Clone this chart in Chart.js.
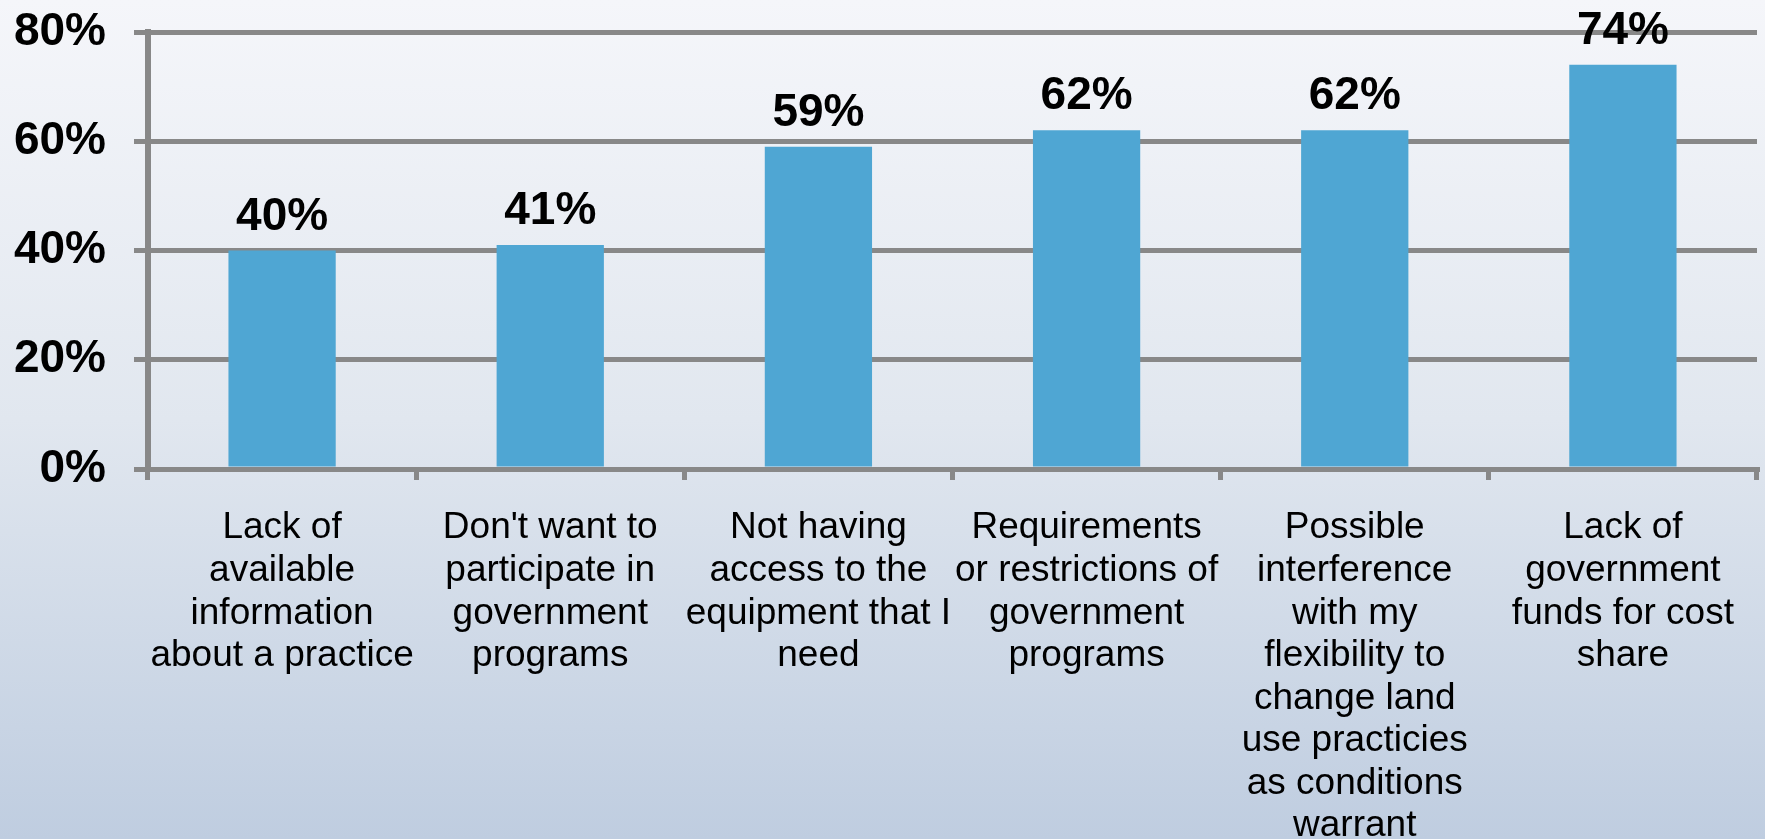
<!DOCTYPE html>
<html>
<head>
<meta charset="utf-8">
<script src="https://cdn.jsdelivr.net/npm/chart.js@4/dist/chart.umd.min.js"></script>
<style>
  html, body { margin: 0; padding: 0; }
  canvas { display: block; }
</style>
</head>
<body>
<canvas id="barriers" width="1765" height="839"></canvas>
<script>
const categories = [
  ["Lack of", "available", "information", "about a practice"],
  ["Don't want to", "participate in", "government", "programs"],
  ["Not having", "access to the", "equipment that I", "need"],
  ["Requirements", "or restrictions of", "government", "programs"],
  ["Possible", "interference", "with my", "flexibility to", "change land", "use practicies", "as conditions", "warrant"],
  ["Lack of", "government", "funds for cost", "share"]
];
const percents = [40, 41, 59, 62, 62, 74];
const yTicks = [0, 20, 40, 60, 80];

const FONT = "Arial, 'Liberation Sans', sans-serif";
const GRID = "#888888";

// soft top-to-bottom wash behind everything
const backdrop = {
  id: "backdrop",
  beforeDraw(chart) {
    const ctx = chart.ctx;
    const g = ctx.createLinearGradient(0, 0, 0, chart.height);
    g.addColorStop(0, "#f5f6fa");
    g.addColorStop(0.5, "#e1e7ef");
    g.addColorStop(1, "#bfcde0");
    ctx.save();
    ctx.fillStyle = g;
    ctx.fillRect(0, 0, chart.width, chart.height);
    ctx.restore();
  }
};

// percent value printed over each bar
const valueLabels = {
  id: "valueLabels",
  afterDatasetsDraw(chart) {
    const ctx = chart.ctx;
    const meta = chart.getDatasetMeta(0);
    ctx.save();
    ctx.font = "bold 46px " + FONT;
    ctx.fillStyle = "#000";
    ctx.textAlign = "center";
    ctx.textBaseline = "alphabetic";
    meta.data.forEach((bar, i) => {
      ctx.fillText(percents[i] + "%", bar.x, bar.y - 21);
    });
    ctx.restore();
  }
};

new Chart(document.getElementById("barriers"), {
  type: "bar",
  data: {
    labels: categories,
    datasets: [{
      data: percents,
      backgroundColor: "#4fa6d3",
      borderWidth: 0,
      barPercentage: 0.4,
      categoryPercentage: 1
    }]
  },
  options: {
    responsive: false,
    animation: false,
    layout: { padding: { top: 32, right: 8, left: 0, bottom: 0 } },
    plugins: {
      legend: { display: false },
      tooltip: { enabled: false }
    },
    scales: {
      x: {
        grid: {
          drawOnChartArea: false,
          drawTicks: true,
          tickLength: 11,
          lineWidth: 5,
          color: GRID
        },
        border: { display: true, width: 5, color: GRID },
        ticks: {
          autoSkip: false,
          maxRotation: 0,
          minRotation: 0,
          padding: 27,
          color: "#000",
          font: { family: FONT, size: 37, lineHeight: 1.15 }
        },
        afterFit(scale) { scale.height = 370; }
      },
      y: {
        min: 0,
        max: 80,
        afterBuildTicks(scale) { scale.ticks = yTicks.map(v => ({ value: v })); },
        grid: {
          color: GRID,
          lineWidth: 5,
          tickLength: 14
        },
        border: { display: true, width: 6, color: GRID },
        ticks: {
          padding: 28,
          color: "#000",
          font: { family: FONT, size: 46, weight: "bold" },
          callback: v => v + "%"
        },
        afterFit(scale) {
          scale.width = 148;
          scale.paddingTop = 0;
          scale.paddingBottom = 0;
        }
      }
    }
  },
  plugins: [backdrop, valueLabels]
});
</script>
</body>
</html>
